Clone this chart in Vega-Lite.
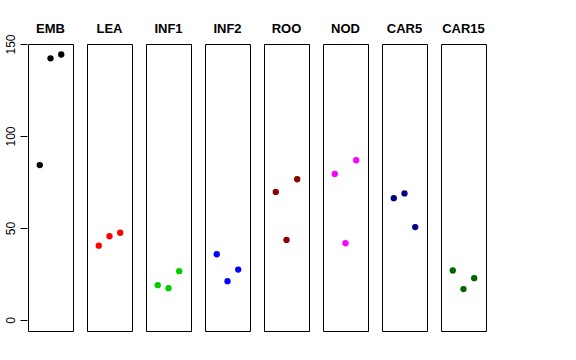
{
  "$schema": "https://vega.github.io/schema/vega-lite/v6.json",
  "padding": {"left": 4, "top": 23, "right": 5, "bottom": 5},
  "background": "white",
  "data": {"values": [
    {"panel": "EMB", "x": 1, "y": 84.2},
    {"panel": "EMB", "x": 2, "y": 142.2},
    {"panel": "EMB", "x": 3, "y": 144.3},
    {"panel": "LEA", "x": 1, "y": 40.4},
    {"panel": "LEA", "x": 2, "y": 45.5},
    {"panel": "LEA", "x": 3, "y": 47.4},
    {"panel": "INF1", "x": 1, "y": 18.9},
    {"panel": "INF1", "x": 2, "y": 17.3},
    {"panel": "INF1", "x": 3, "y": 26.5},
    {"panel": "INF2", "x": 1, "y": 35.7},
    {"panel": "INF2", "x": 2, "y": 21.1},
    {"panel": "INF2", "x": 3, "y": 27.4},
    {"panel": "ROO", "x": 1, "y": 69.6},
    {"panel": "ROO", "x": 2, "y": 43.5},
    {"panel": "ROO", "x": 3, "y": 76.5},
    {"panel": "NOD", "x": 1, "y": 79.4},
    {"panel": "NOD", "x": 2, "y": 41.7},
    {"panel": "NOD", "x": 3, "y": 86.8},
    {"panel": "CAR5", "x": 1, "y": 66.2},
    {"panel": "CAR5", "x": 2, "y": 68.8},
    {"panel": "CAR5", "x": 3, "y": 50.5},
    {"panel": "CAR15", "x": 1, "y": 26.9},
    {"panel": "CAR15", "x": 2, "y": 16.8},
    {"panel": "CAR15", "x": 3, "y": 22.7}
  ]},
  "facet": {
    "column": {
      "field": "panel",
      "type": "nominal",
      "sort": ["EMB", "LEA", "INF1", "INF2", "ROO", "NOD", "CAR5", "CAR15"],
      "header": {
        "title": null,
        "labelFont": "Liberation Sans",
        "labelFontWeight": "bold",
        "labelFontSize": 13,
        "labelColor": "black",
        "labelPadding": 7
      }
    }
  },
  "spacing": 12,
  "spec": {
    "width": 45,
    "height": 287,
    "mark": {"type": "circle", "size": 40, "opacity": 1},
    "encoding": {
      "x": {"field": "x", "type": "quantitative", "scale": {"domain": [-0.1, 4.1], "nice": false, "zero": false}, "axis": null},
      "y": {"field": "y", "type": "quantitative", "scale": {"domain": [-6, 150], "nice": false, "zero": false},
        "axis": {"title": null, "values": [0, 50, 100, 150], "domain": false, "grid": false, "tickColor": "black", "tickSize": 7,
          "labelAngle": 270, "labelAlign": "center", "labelBaseline": "bottom", "labelPadding": 3, "labelFont": "Liberation Sans", "labelFontSize": 12, "labelColor": "black"}},
      "color": {"field": "panel", "type": "nominal", "legend": null,
        "scale": {"domain": ["EMB", "LEA", "INF1", "INF2", "ROO", "NOD", "CAR5", "CAR15"],
          "range": ["#000000", "#FF0000", "#00CD00", "#0000FF", "#8B0000", "#FF00FF", "#000080", "#006400"]}}
    }
  },
  "config": {
    "view": {"stroke": "black", "strokeWidth": 1}
  }
}
